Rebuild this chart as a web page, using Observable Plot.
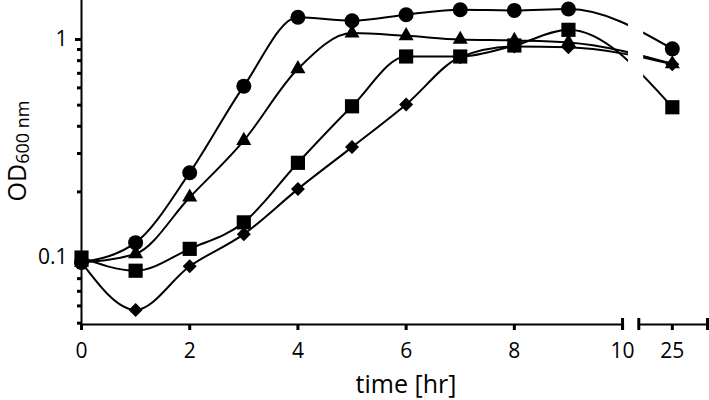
<!DOCTYPE html>
<html>
<head>
<meta charset="utf-8">
<script src="https://cdn.jsdelivr.net/npm/d3@7"></script>
<script src="https://cdn.jsdelivr.net/npm/@observablehq/plot@0.6"></script>
<style>
  html, body { margin: 0; padding: 0; background: #fff; }
</style>
</head>
<body>
<div id="chart"></div>
<script>
// ---- data ----
const time     = [0, 1, 2, 3, 4, 5, 6, 7, 8, 9, 25];
const circle   = [0.095, 0.117, 0.245, 0.611, 1.265, 1.22, 1.30, 1.37, 1.36, 1.38, 0.906];
const triangle = [0.095, 0.104, 0.189, 0.344, 0.734, 1.07, 1.04, 1.00, 0.99, 0.97, 0.774];
const square   = [0.100, 0.087, 0.1096, 0.145, 0.272, 0.494, 0.836, 0.836, 0.939, 1.108, 0.489];
const diamond  = [0.095, 0.0575, 0.0912, 0.128, 0.206, 0.321, 0.504, 0.83, 0.93, 0.922, 0.77];

const xTickTimes  = [0, 2, 4, 6, 8, 10, 25];
const xTickLabels = ["0", "2", "4", "6", "8", "10", "25"];
const yMajorTicks = [0.1, 1];
const yMajorLabels = ["0.1", "1"];
const yMinorTicks = [0.05, 0.06, 0.07, 0.08, 0.09, 0.2, 0.3, 0.4, 0.5, 0.6, 0.7, 0.8, 0.9];

// broken time axis: 0..10, gap, then a short segment around 25
const firstSegmentEnd = 10;
const secondSegmentStart = 10.3;      // axis position where the second segment begins
const secondSegmentTimeStart = 24.38; // time value at that position
const axisEnd = 11.57;
const yDomain = [0.0493, 1.51];

const pos = t => t <= firstSegmentEnd ? t : secondSegmentStart + (t - secondSegmentTimeStart);

const series = [
  {name: "circle",   values: circle,   symbol: "circle",   r: 7.5},
  {name: "triangle", values: triangle, symbol: "triangle", r: 5.6},
  {name: "square",   values: square,   symbol: "square",   r: 8.0},
  {name: "diamond",  values: diamond,  symbol: "diamond2", r: 6.3}
];
const rows = series.flatMap(s => time.map((t, i) => ({name: s.name, t, x: pos(t), v: s.values[i]})));

const axisSegments = [
  {x1: 0, x2: firstSegmentEnd},
  {x1: secondSegmentStart, x2: axisEnd}
];
const breakMarks = [firstSegmentEnd, secondSegmentStart, axisEnd];
const lineGap = [{x1: 10.11, x2: 10.39}];

const xLabelOf = d => xTickLabels[xTickTimes.map(pos).indexOf(d)] ?? "";
const yLabelOf = d => yMajorLabels[yMajorTicks.indexOf(d)] ?? "";

const plot = Plot.plot({
  width: 709,
  height: 400,
  marginLeft: 81,
  marginRight: 2,
  marginTop: 0,
  marginBottom: 76,
  style: {fontFamily: "Open Sans", fontSize: "21px", color: "black", background: "white"},
  x: {domain: [0, axisEnd]},
  y: {type: "log", domain: yDomain},
  marks: [
    Plot.line(rows, {x: "x", y: "v", z: "name", curve: "monotone-x", stroke: "black", strokeWidth: 2}),
    Plot.rect(lineGap, {x1: "x1", x2: "x2", fill: "white"}),
    ...series.map(s => Plot.dot(rows.filter(d => d.name === s.name), {
      x: "x", y: "v", symbol: s.symbol, r: s.r, fill: "black", stroke: "none"
    })),
    Plot.ruleX([0], {strokeWidth: 2}),
    Plot.ruleY(axisSegments, {y: () => yDomain[0], x1: "x1", x2: "x2", strokeWidth: 2}),
    Plot.ruleX(breakMarks, {x: d => d, y1: () => yDomain[0], y2: () => yDomain[0], insetTop: -6, insetBottom: -6, strokeWidth: 3}),
    Plot.axisX(xTickTimes.map(pos), {tickSize: 6, tickPadding: 13, strokeWidth: 3, fontSize: 21, label: null,
      tickFormat: xLabelOf}),
    Plot.axisY(yMajorTicks, {tickSize: 6, tickPadding: 8, strokeWidth: 3, fontSize: 21, label: null,
      tickFormat: yLabelOf}),
    Plot.axisY(yMinorTicks, {tickSize: 4, strokeWidth: 3, label: null, tickFormat: d => ""})
  ]
});

const svg = d3.select(plot);
const yl = svg.append("text")
  .attr("transform", "translate(26,151) rotate(-90)")
  .attr("text-anchor", "middle")
  .attr("fill", "black")
  .style("font-family", "Open Sans");
yl.append("tspan").attr("font-size", 25).text("OD");
yl.append("tspan").attr("font-size", 18).attr("dy", 3).text("600 nm");

svg.append("text")
  .attr("x", 406).attr("y", 393)
  .attr("text-anchor", "middle")
  .attr("fill", "black")
  .attr("font-size", 25)
  .style("font-family", "Open Sans")
  .text("time [hr]");

document.getElementById("chart").appendChild(plot);
</script>
</body>
</html>
